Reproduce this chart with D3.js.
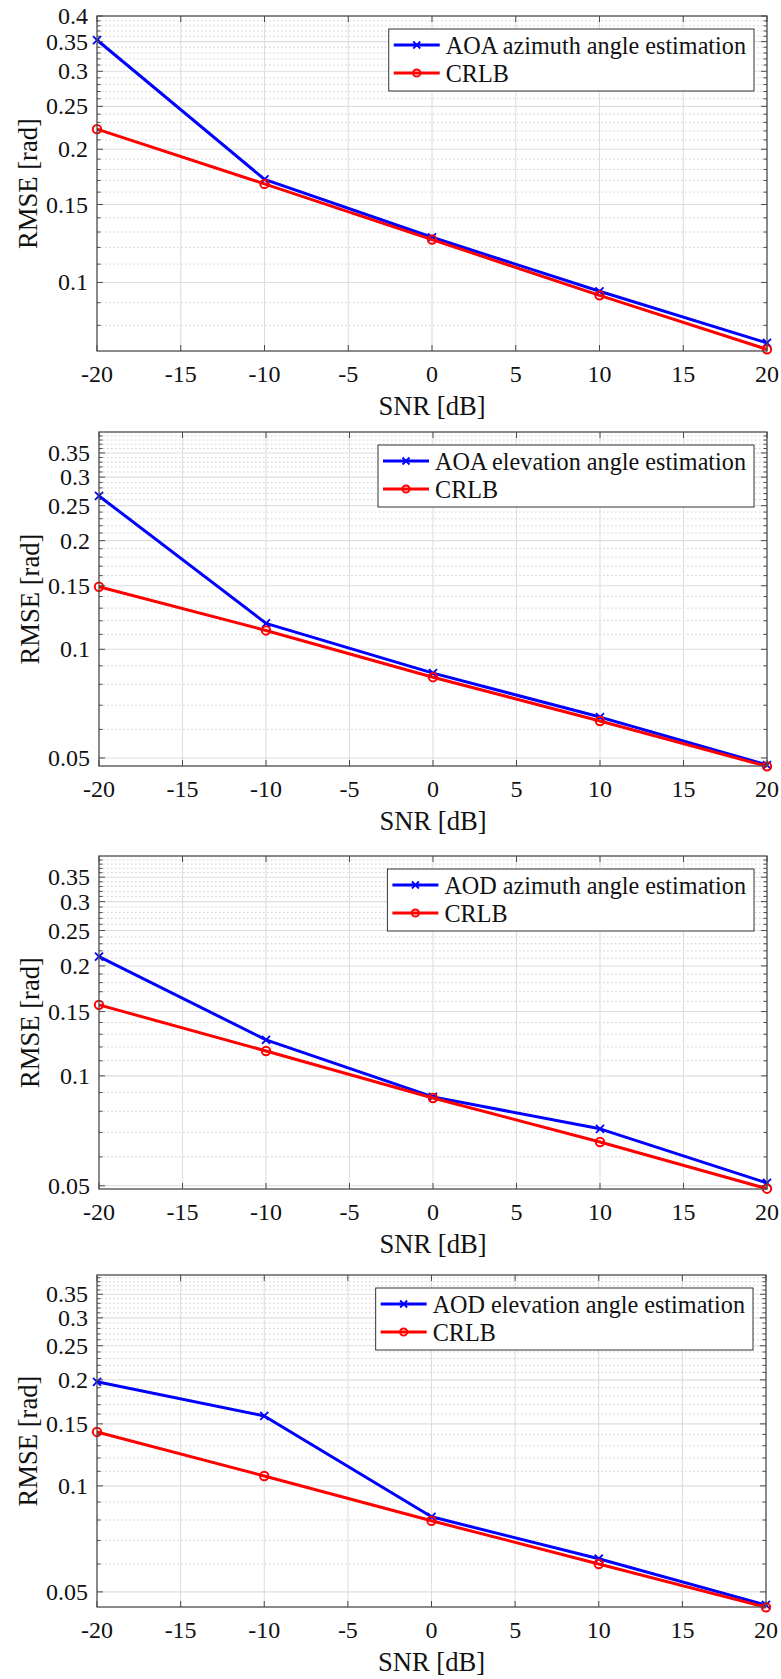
<!DOCTYPE html>
<html><head><meta charset="utf-8">
<script src="https://cdn.jsdelivr.net/npm/d3@7"></script>
<style>
body{margin:0;background:#fff}
svg{display:block}
</style>
</head><body><svg id="c" width="781" height="1679"></svg>
<script>
// ---- data ----
const snr = [-20, -10, 0, 10, 20];
const xTicks = [-20, -15, -10, -5, 0, 5, 10, 15, 20];
const yTicksA = [0.1, 0.15, 0.2, 0.25, 0.3, 0.35, 0.4];
const yTicksB = [0.05, 0.1, 0.15, 0.2, 0.25, 0.3, 0.35];

const aoaAzEst  = [0.353, 0.171, 0.1265, 0.0955, 0.073];
const aoaAzCrlb = [0.222, 0.167, 0.125, 0.0935, 0.0706];
const aoaElEst  = [0.266, 0.118, 0.0859, 0.0649, 0.0478];
const aoaElCrlb = [0.149, 0.1128, 0.0837, 0.0633, 0.0474];
const aodAzEst  = [0.212, 0.1255, 0.0876, 0.0716, 0.0509];
const aodAzCrlb = [0.1565, 0.117, 0.087, 0.0659, 0.0491];
const aodElEst  = [0.1975, 0.158, 0.0817, 0.0621, 0.0459];
const aodElCrlb = [0.1423, 0.1067, 0.0796, 0.060, 0.0452];

const estLabels = ["AOA azimuth angle estimation", "AOA elevation angle estimation",
                   "AOD azimuth angle estimation", "AOD elevation angle estimation"];
const crlbLabel = "CRLB";
const xLabel = "SNR [dB]";
const yLabel = "RMSE [rad]";
const yLimits = [[0.07, 0.4], [0.0475, 0.4], [0.049, 0.4], [0.0453, 0.397]];

// ---- layout ----
const FONT = '"Liberation Serif"';
const boxes = [
  {l: 97, r: 767, t: 16, b: 351},
  {l: 99, r: 767, t: 432, b: 766},
  {l: 99, r: 767, t: 856, b: 1189},
  {l: 97, r: 766, t: 1275, b: 1607}
];
const panels = [
  {est: aoaAzEst, crlb: aoaAzCrlb, label: estLabels[0], yTicks: yTicksA, yLim: yLimits[0]},
  {est: aoaElEst, crlb: aoaElCrlb, label: estLabels[1], yTicks: yTicksB, yLim: yLimits[1]},
  {est: aodAzEst, crlb: aodAzCrlb, label: estLabels[2], yTicks: yTicksB, yLim: yLimits[2]},
  {est: aodElEst, crlb: aodElCrlb, label: estLabels[3], yTicks: yTicksB, yLim: yLimits[3]}
];

const BLUE = "#0000ff", RED = "#ff0000";
const AXC = "#4a4a4a";
const TICKFS = 24, LEGFS = 24.2, LABFS = 26.6;
const svg = d3.select("#c");

function txt(sel, fs) {
  return sel.attr("font-size", fs).style("font-family", FONT).attr("fill", "#111");
}
function drawX(g, xx, yy, s, color) {
  g.append("path")
    .attr("d", `M${xx - s},${yy - s}L${xx + s},${yy + s}M${xx - s},${yy + s}L${xx + s},${yy - s}`)
    .attr("stroke", color).attr("stroke-width", 1.8).attr("fill", "none");
}
function drawO(g, xx, yy, r, color) {
  g.append("circle").attr("cx", xx).attr("cy", yy).attr("r", r)
    .attr("stroke", color).attr("stroke-width", 2).attr("fill", "none");
}

panels.forEach((p, i) => {
  const bx = boxes[i];
  const g = svg.append("g");
  const x = d3.scaleLinear().domain([-20, 20]).range([bx.l, bx.r]);
  const y = d3.scaleLog().domain(p.yLim).range([bx.b, bx.t]);

  const minors = [];
  for (let k = 1; k <= 60; k++) {
    const v = k / 100;
    if (v > p.yLim[0] + 1e-6 && v < p.yLim[1] - 1e-6 &&
        !p.yTicks.some(t => Math.abs(t - v) < 1e-9)) minors.push(v);
  }

  g.append("g").selectAll("line").data(minors).join("line")
    .attr("x1", bx.l).attr("x2", bx.r)
    .attr("y1", d => y(d)).attr("y2", d => y(d))
    .attr("stroke", "#cfcfcf").attr("stroke-width", 1)
    .attr("stroke-dasharray", "1.5,2.5");

  g.append("g").selectAll("line").data(p.yTicks.filter(t => t > p.yLim[0] && t < p.yLim[1])).join("line")
    .attr("x1", bx.l).attr("x2", bx.r)
    .attr("y1", d => y(d)).attr("y2", d => y(d))
    .attr("stroke", "#dedede").attr("stroke-width", 1.1);
  g.append("g").selectAll("line").data(xTicks.slice(1, -1)).join("line")
    .attr("x1", d => x(d)).attr("x2", d => x(d))
    .attr("y1", bx.t).attr("y2", bx.b)
    .attr("stroke", "#dedede").attr("stroke-width", 1.1);

  const line = d3.line().x((d, j) => x(snr[j])).y(d => y(d));
  g.append("path").datum(p.est).attr("d", line)
    .attr("fill", "none").attr("stroke", BLUE).attr("stroke-width", 3).attr("stroke-linejoin", "round");
  p.est.forEach((v, j) => drawX(g, x(snr[j]), y(v), 4, BLUE));
  g.append("path").datum(p.crlb).attr("d", line)
    .attr("fill", "none").attr("stroke", RED).attr("stroke-width", 3).attr("stroke-linejoin", "round");
  p.crlb.forEach((v, j) => drawO(g, x(snr[j]), y(v), 4.2, RED));

  g.append("rect").attr("x", bx.l).attr("y", bx.t)
    .attr("width", bx.r - bx.l).attr("height", bx.b - bx.t)
    .attr("fill", "none").attr("stroke", AXC).attr("stroke-width", 1.3);

  const tk = g.append("g").attr("stroke", AXC).attr("stroke-width", 1);
  xTicks.forEach(t => {
    tk.append("line").attr("x1", x(t)).attr("x2", x(t)).attr("y1", bx.b).attr("y2", bx.b - 6);
    tk.append("line").attr("x1", x(t)).attr("x2", x(t)).attr("y1", bx.t).attr("y2", bx.t + 6);
  });
  p.yTicks.filter(t => t >= p.yLim[0] && t <= p.yLim[1]).forEach(t => {
    tk.append("line").attr("x1", bx.l).attr("x2", bx.l + 6).attr("y1", y(t)).attr("y2", y(t));
    tk.append("line").attr("x1", bx.r).attr("x2", bx.r - 6).attr("y1", y(t)).attr("y2", y(t));
  });
  minors.forEach(t => {
    tk.append("line").attr("x1", bx.l).attr("x2", bx.l + 3.5).attr("y1", y(t)).attr("y2", y(t));
    tk.append("line").attr("x1", bx.r).attr("x2", bx.r - 3.5).attr("y1", y(t)).attr("y2", y(t));
  });

  txt(g.append("g").selectAll("text").data(xTicks).join("text")
    .attr("x", d => x(d)).attr("y", bx.b + 31)
    .attr("text-anchor", "middle"), TICKFS)
    .text(d => String(d));
  txt(g.append("g").selectAll("text").data(p.yTicks.filter(t => t >= p.yLim[0] - 1e-9 && t <= p.yLim[1] + 1e-9)).join("text")
    .attr("x", bx.l - 9).attr("y", d => y(d) + 8)
    .attr("text-anchor", "end"), TICKFS)
    .text(d => String(d));

  txt(g.append("text").attr("x", (bx.l + bx.r) / 2).attr("y", bx.b + 64)
    .attr("text-anchor", "middle"), LABFS).text(xLabel);
  txt(g.append("text")
    .attr("transform", `translate(${bx.l - 60},${(bx.t + bx.b) / 2}) rotate(-90)`)
    .attr("text-anchor", "middle"), LABFS).text(yLabel);

  const lg = g.append("g");
  const rect = lg.append("rect").attr("fill", "#fff").attr("stroke", "#333").attr("stroke-width", 1);
  const t1 = txt(lg.append("text"), LEGFS).text(p.label);
  const t2 = txt(lg.append("text"), LEGFS).text(crlbLabel);
  const tw = Math.max(t1.node().getComputedTextLength(), t2.node().getComputedTextLength());
  const lw = 57 + tw + 8;
  const lr = bx.r - 13, lt = bx.t + 13, lh = 62;
  const ll = lr - lw;
  rect.attr("x", ll).attr("y", lt).attr("width", lw).attr("height", lh);
  const r1 = lt + 16, r2 = lt + 44;
  t1.attr("x", ll + 57).attr("y", r1 + 8.5);
  t2.attr("x", ll + 57).attr("y", r2 + 8.5);
  lg.append("line").attr("x1", ll + 5).attr("x2", ll + 51).attr("y1", r1).attr("y2", r1)
    .attr("stroke", BLUE).attr("stroke-width", 3);
  drawX(lg, ll + 28, r1, 3.5, BLUE);
  lg.append("line").attr("x1", ll + 5).attr("x2", ll + 51).attr("y1", r2).attr("y2", r2)
    .attr("stroke", RED).attr("stroke-width", 3);
  drawO(lg, ll + 28, r2, 3.6, RED);
});
</script>
</body></html>
